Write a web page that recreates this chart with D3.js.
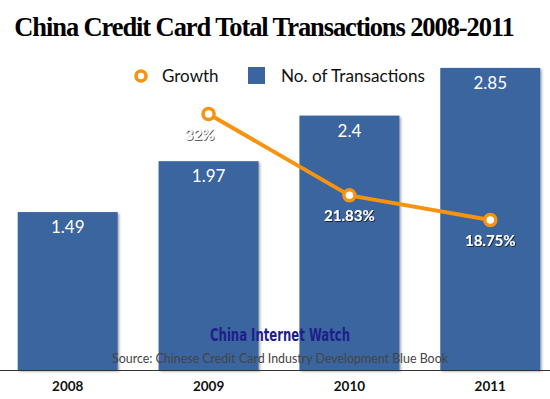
<!DOCTYPE html>
<html><head><meta charset="utf-8">
<script src="https://cdn.jsdelivr.net/npm/d3@7"></script>
<style>body{margin:0;background:#fff}svg{display:block}</style>
</head><body>
<script>
const years = ["2008","2009","2010","2011"];
const transactions = [1.49, 1.97, 2.4, 2.85];
const transactionLabels = ["1.49","1.97","2.4","2.85"];
const growthYears = ["2009","2010","2011"];
const growth = [32, 21.83, 18.75];
const growthLabels = ["32%","21.83%","18.75%"];

const W = 550, H = 399;
const svg = d3.select("body").append("svg").attr("width", W).attr("height", H);
const defs = svg.append("defs");
const f = defs.append("filter").attr("id","sh").attr("x","-10%").attr("y","-10%").attr("width","130%").attr("height","130%");
f.append("feDropShadow").attr("dx",1.5).attr("dy",1.5).attr("stdDeviation",1).attr("flood-color","#000").attr("flood-opacity",0.35);
const ts = defs.append("filter").attr("id","ts");
ts.append("feDropShadow").attr("dx",0.8).attr("dy",0.8).attr("stdDeviation",0.6).attr("flood-color","#000").attr("flood-opacity",0.8);

const x = d3.scaleBand().domain(years).range([-2, 560]).paddingInner(0.29).paddingOuter(0.14);
const y = d3.scaleLinear().domain([0, 3]).range([370, 52]);
const yg = d3.scaleLinear().domain([0, 40]).range([370, 50]);
const barColor = "#3b659f", orange = "#f7930f";

svg.append("text").attr("x", 264).attr("y", 36).attr("text-anchor","middle")
  .attr("font-family","Liberation Serif").attr("font-weight","bold").attr("font-size", 26.5)
  .attr("letter-spacing", -1.1)
  .text("China Credit Card Total Transactions 2008-2011");

svg.selectAll("rect.bar").data(years).join("rect").attr("class","bar")
  .attr("x", d => x(d)).attr("width", x.bandwidth())
  .attr("y", (d,i) => y(transactions[i])).attr("height", (d,i) => y(0) - y(transactions[i]))
  .attr("fill", barColor).attr("filter","url(#sh)");

svg.selectAll("text.bv").data(years).join("text").attr("class","bv")
  .attr("x", d => x(d) + x.bandwidth()/2).attr("y", (d,i) => y(transactions[i]) + 21)
  .attr("text-anchor","middle").attr("fill","#fff").attr("font-family","Lato, 'Open Sans'")
  .attr("font-size", 17).text((d,i) => transactionLabels[i]);

// axis
const axis = svg.append("g").attr("transform","translate(0,370)")
  .call(d3.axisBottom(x).tickSize(0).tickPadding(11));
axis.select(".domain").attr("stroke","#333").attr("d","M0,0.5H550");
axis.selectAll("text").attr("font-family","Lato, 'DejaVu Sans'").attr("font-weight","bold")
  .attr("font-size", 13.5).attr("fill","#111");

// watermark and source
svg.append("text").attr("x", 280).attr("y", 341).attr("text-anchor","middle")
  .attr("font-family","'Liberation Sans Narrow', 'DejaVu Sans Condensed', sans-serif").attr("font-weight","bold")
  .attr("font-size", 17).attr("fill","#1e1e8c").attr("textLength",140).attr("lengthAdjust","spacingAndGlyphs")
  .text("China Internet Watch");
svg.append("text").attr("x", 280).attr("y", 363).attr("text-anchor","middle")
  .attr("font-family","Lato, 'Open Sans'").attr("font-size", 12.5).attr("fill","#444")
  .attr("textLength", 336).attr("lengthAdjust","spacingAndGlyphs")
  .text("Source: Chinese Credit Card Industry Development Blue Book");

// growth line
const line = d3.line().x((d,i) => x(growthYears[i]) + x.bandwidth()/2).y(d => yg(d));
svg.append("path").datum(growth).attr("d", line).attr("fill","none")
  .attr("stroke", orange).attr("stroke-width", 4).attr("stroke-linejoin","round");
svg.selectAll("circle.gp").data(growth).join("circle").attr("class","gp")
  .attr("cx",(d,i) => x(growthYears[i]) + x.bandwidth()/2).attr("cy", d => yg(d))
  .attr("r", 5.5).attr("fill","#fff").attr("stroke", orange).attr("stroke-width", 3.5);
svg.selectAll("text.gl").data(growth).join("text").attr("class","gl")
  .attr("x",(d,i) => x(growthYears[i]) + x.bandwidth()/2 - (i===0 ? 9 : 0)).attr("y", d => yg(d) + 26)
  .attr("text-anchor","middle").attr("fill","#fff").attr("font-family","Lato, 'Open Sans'")
  .attr("font-weight","bold").attr("font-size", 15).attr("filter","url(#ts)")
  .text((d,i) => growthLabels[i]);

// legend
const lg = svg.append("g");
lg.append("circle").attr("cx", 141).attr("cy", 76).attr("r", 5).attr("fill","#fff")
  .attr("stroke", orange).attr("stroke-width", 3.5);
lg.append("text").attr("x", 162).attr("y", 82).attr("font-family","Lato, 'Open Sans'")
  .attr("font-size", 17).attr("fill","#111").text("Growth");
lg.append("rect").attr("x", 248).attr("y", 67).attr("width", 17).attr("height", 17).attr("fill", barColor);
lg.append("text").attr("x", 281).attr("y", 82).attr("font-family","Lato, 'Open Sans'")
  .attr("font-size", 17).attr("fill","#111").attr("textLength",144).attr("lengthAdjust","spacingAndGlyphs")
  .text("No. of Transactions");
</script>
</body></html>
